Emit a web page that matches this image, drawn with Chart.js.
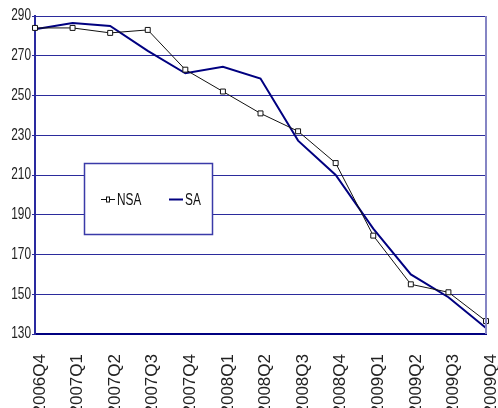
<!DOCTYPE html>
<html>
<head>
<meta charset="utf-8">
<script src="https://cdn.jsdelivr.net/npm/chart.js@4/dist/chart.umd.min.js"></script>
<style>
  html, body { margin: 0; padding: 0; background: #fff; }
  #wrap { width: 498px; height: 408px; position: relative; }
</style>
</head>
<body>
<div id="wrap"><canvas id="chart"></canvas></div>
<script>
const quarters = ["2006Q4", "2007Q1", "2007Q2", "2007Q3", "2007Q4", "2008Q1", "2008Q2",
    "2008Q3", "2008Q4", "2009Q1", "2009Q2", "2009Q3", "2009Q4"];
const nsaValues = [284, 284, 281.5, 283, 263, 252, 241, 232, 216, 179.5, 155, 151, 136.5];
const saValues = [283.3, 286.5, 285, 272.5, 261.2, 264.5, 258.5, 227.3, 210, 183, 160, 148.5, 133];
const yMin = 130;
const yMax = 290;
const yStep = 20;

const navy = "#000080";
const gridColor = "#2b2b9c";
const armFont = "'Liberation Sans', Arial, sans-serif";
const squeeze = 0.74; // the original squashes its short labels sideways

// legend box and right plot border, drawn inside the plot area
const boxLegend = {
    id: "boxLegend",
    afterDraw(chart) {
        const ctx = chart.ctx;
        const area = chart.chartArea;
        ctx.save();

        // right edge of plot area
        ctx.strokeStyle = "#8585c4";
        ctx.lineWidth = 2;
        ctx.beginPath();
        ctx.moveTo(area.right, area.top);
        ctx.lineTo(area.right, area.bottom);
        ctx.stroke();

        // legend frame
        const bx = 84.5, by = 163.5, bw = 128, bh = 71;
        ctx.fillStyle = "#fff";
        ctx.fillRect(bx, by, bw, bh);
        ctx.strokeStyle = "#3a3aa8";
        ctx.lineWidth = 1.5;
        ctx.strokeRect(bx, by, bw, bh);

        const cy = 199.5;
        const items = [{ x: 101, textX: 117 }, { x: 169, textX: 185 }];
        chart.data.datasets.forEach((ds, i) => {
            const it = items[i];
            ctx.strokeStyle = ds.borderColor;
            ctx.lineWidth = ds.borderWidth;
            ctx.beginPath();
            ctx.moveTo(it.x, cy);
            ctx.lineTo(it.x + 14, cy);
            ctx.stroke();
            if (ds.pointRadius > 0) {
                ctx.fillStyle = "#fff";
                ctx.strokeStyle = ds.borderColor;
                ctx.lineWidth = 1;
                ctx.fillRect(it.x + 5, cy - 3, 4, 5);
                ctx.strokeRect(it.x + 5.5, cy - 2.5, 3, 5);
            }
            ctx.save();
            ctx.translate(it.textX, 0);
            ctx.scale(squeeze, 1);
            ctx.fillStyle = "#111";
            ctx.font = "16px " + armFont;
            ctx.textBaseline = "middle";
            ctx.textAlign = "left";
            ctx.fillText(ds.label, 0, cy + 1);
            ctx.restore();
        });
        ctx.restore();
    }
};

const ctx = document.getElementById("chart").getContext("2d");
const chart = new Chart(ctx, {
    type: "line",
    data: {
        labels: quarters,
        datasets: [
            {
                label: "NSA",
                data: nsaValues,
                borderColor: "#111",
                borderWidth: 1,
                pointStyle: "rect",
                pointRadius: 3.5,
                pointBackgroundColor: "#fff",
                pointBorderColor: "#111",
                pointBorderWidth: 1,
                tension: 0,
                clip: false
            },
            {
                label: "SA",
                data: saValues,
                borderColor: navy,
                borderWidth: 2,
                pointRadius: 0,
                tension: 0,
                clip: false
            }
        ]
    },
    options: {
        responsive: true,
        maintainAspectRatio: false,
        animation: false,
        layout: { padding: { top: 16, right: 12, left: 0, bottom: 0 } },
        plugins: {
            legend: { display: false },
            tooltip: { enabled: false }
        },
        scales: {
            x: {
                offset: false,
                grid: { display: false },
                border: { display: true, color: navy, width: 2 },
                ticks: {
                    autoSkip: false,
                    minRotation: 90,
                    maxRotation: 90,
                    padding: 12,
                    labelOffset: 5,
                    color: "#222",
                    font: { family: armFont, size: 17 }
                },
                afterFit(axis) {
                    axis.height = 74;
                    axis.paddingLeft = 0;
                    axis.paddingRight = 0;
                }
            },
            y: {
                min: yMin,
                max: yMax,
                grid: { color: gridColor, lineWidth: 1, tickLength: 3, drawTicks: true },
                border: { display: true, color: "#2a2aa0", width: 2 },
                ticks: {
                    stepSize: yStep,
                    padding: 1,
                    color: "#222",
                    font: { family: armFont, size: 16 }
                },
                afterFit(axis) {
                    axis.width = 35;
                    axis.paddingTop = 0;
                    axis.paddingBottom = 0;
                }
            }
        }
    },
    plugins: [boxLegend]
});

// squash the y tick labels sideways, keeping their right edge in place
const yScale = chart.scales.y;
const drawYLabels = yScale.drawLabels.bind(yScale);
yScale.drawLabels = function (area) {
    const edge = yScale.right - 4;
    ctx.save();
    ctx.translate(edge, 0);
    ctx.scale(squeeze, 1);
    ctx.translate(-edge, 0);
    drawYLabels(area);
    ctx.restore();
};
chart.draw();
</script>
</body>
</html>
